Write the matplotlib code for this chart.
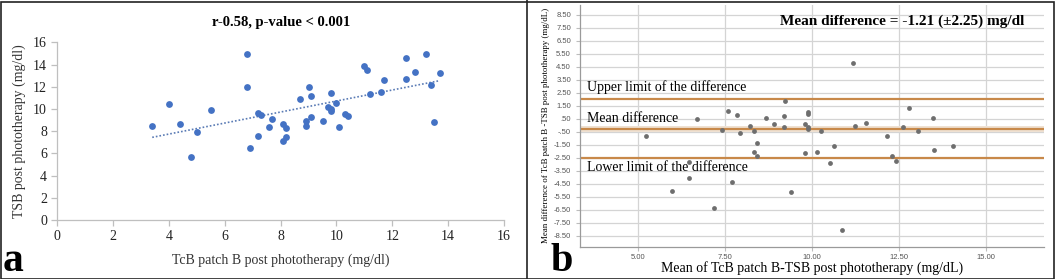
import matplotlib
matplotlib.use("Agg")
import matplotlib.pyplot as plt
import numpy as np
from matplotlib.patches import Rectangle
from matplotlib.lines import Line2D

# ---------------- data ----------------
# Panel a: TcB patch B vs TSB post phototherapy
tcb_a = [3.4, 4.0, 4.4, 4.8, 5.0, 5.5, 6.8, 6.8, 6.9, 7.2, 7.2, 7.3, 7.6, 7.7,
         8.1, 8.1, 8.2, 8.2, 8.7, 8.9, 8.9, 9.0, 9.1, 9.1, 9.5, 9.8, 9.7, 9.8,
         9.8, 10.0, 10.1, 10.3, 10.4, 11.0, 11.1, 11.2, 11.6, 11.7, 12.5, 12.5,
         12.8, 13.2, 13.4, 13.5, 13.7]
tsb_a = [8.5, 10.45, 8.6, 5.7, 7.9, 9.9, 14.95, 12.0, 6.5, 9.6, 7.6, 9.45, 8.35, 9.1,
         8.6, 7.1, 8.3, 7.5, 10.9, 8.45, 8.95, 12.0, 11.2, 9.3, 8.9, 11.45, 10.15, 10.0,
         9.8, 10.5, 8.35, 9.5, 9.4, 13.85, 13.55, 11.3, 11.5, 12.65, 14.55, 12.7,
         13.3, 14.95, 12.15, 8.85, 13.25]
ticks_a = [0, 2, 4, 6, 8, 10, 12, 14, 16]

# Panel b: Bland-Altman
mean_b = [5.22, 5.96, 6.46, 6.46, 6.69, 7.18, 7.40, 7.58, 7.69, 7.83, 7.93, 8.22,
          8.34, 8.34, 8.40, 8.40, 8.67, 8.89, 9.18, 9.18, 9.21, 9.39, 9.80, 9.80,
          9.88, 9.88, 9.89, 9.89, 10.14, 10.24, 10.50, 10.62, 10.85, 11.17, 11.24,
          11.54, 12.16, 12.30, 12.40, 12.60, 12.78, 13.05, 13.48, 13.50, 14.06]
diff_b = [-0.82, -5.03, -2.80, -4.08, 0.51, -6.37, -0.36, 1.10, -4.34, 0.80, -0.62, -0.03,
          -0.41, -2.03, -1.34, -2.34, 0.54, 0.08, 0.69, -0.10, 1.85, -5.16, 0.08, -2.13,
          -0.10, -0.31, 1.05, 0.87, -2.03, -0.41, -2.93, -1.59, -8.06, 4.78, -0.03,
          0.18, -0.82, -2.34, -2.72, -0.10, 1.36, -0.41, 0.54, -1.93, -1.62]
limits_b = {"upper": 2.05, "mean": -0.27, "lower": -2.55}
yticks_b = [8.5, 7.5, 6.5, 5.5, 4.5, 3.5, 2.5, 1.5, 0.5, -0.5, -1.5, -2.5, -3.5,
            -4.5, -5.5, -6.5, -7.5, -8.5]
ytick_labels_b = ["8.50", "7.50", "6.50", "5.50", "4.50", "3.50", "2.50", "1.50", ".50",
                  "-.50", "-1.50", "-2.50", "-3.50", "-4.50", "-5.50", "-6.50", "-7.50", "-8.50"]
xticks_b = [5.0, 7.5, 10.0, 12.5, 15.0]
xtick_labels_b = ["5.00", "7.50", "10.00", "12.50", "15.00"]

# ---------------- figure ----------------
W, H = 1056, 279
DPI = 100
plt.rcParams["font.family"] = ["Liberation Serif", "DejaVu Serif"]
fig = plt.figure(figsize=(W / DPI, H / DPI), dpi=DPI)

def px_axes(x0, y0, x1, y1):
    return fig.add_axes([x0 / W, 1 - y1 / H, (x1 - x0) / W, (y1 - y0) / H])

# ---- panel a ----
axa = px_axes(57.3, 42.3, 504, 220)
axa.scatter(tcb_a, tsb_a, s=24, color="#4472C4", zorder=3, linewidths=0)
coef = np.polyfit(tcb_a, tsb_a, 1)
xs = np.array([min(tcb_a), max(tcb_a)])
axa.plot(xs, np.polyval(coef, xs), linestyle=(0, (1, 1.2)), color="#5a7bb5", lw=1.2, zorder=2)
axa.set_xlim(0, 16)
axa.set_ylim(0, 16)
axa.set_xticks(ticks_a)
axa.set_yticks(ticks_a)
for sp in ["top", "right"]:
    axa.spines[sp].set_visible(False)
for sp in ["left", "bottom"]:
    axa.spines[sp].set_color("#bfbfbf")
    axa.spines[sp].set_linewidth(0.9)
axa.tick_params(axis="both", colors="#bfbfbf", labelcolor="#222222", labelsize=10,
                length=4, width=0.9, direction="out")
axa.set_xlabel("TcB patch B post phototherapy (mg/dl)", fontsize=10, color="#333333", labelpad=7)
axa.set_ylabel("TSB post phototherapy (mg/dl)", fontsize=10, color="#333333", labelpad=5)
axa.set_title("r-0.58, p-value < 0.001", fontsize=10.5, fontweight="bold", pad=12)

# ---- panel b ----
axb = px_axes(580, 5, 1044, 246.7)
axb.set_xlim(3.32, 16.67)
axb.set_ylim(-9.35, 9.27)
axb.set_yticks(yticks_b)
axb.set_yticklabels(ytick_labels_b)
axb.set_xticks(xticks_b)
axb.set_xticklabels(xtick_labels_b)
axb.grid(True, color="#d4d4d4", lw=0.9, zorder=0)
axb.set_axisbelow(True)
for sp in ["top", "right"]:
    axb.spines[sp].set_visible(False)
for sp in ["left", "bottom"]:
    axb.spines[sp].set_color("#9a9a9a")
    axb.spines[sp].set_linewidth(0.9)
axb.tick_params(axis="both", colors="#bdbdbd", labelcolor="#555555", length=3, width=0.8)
axb.tick_params(axis="x", pad=2)
for lab in axb.get_xticklabels() + axb.get_yticklabels():
    lab.set_family(["Liberation Sans", "DejaVu Sans"])
    lab.set_fontsize(5.5)
axb.axhspan(limits_b["mean"] - 0.22, limits_b["mean"] + 0.22, color="#efe1d2", zorder=1, lw=0)
for key in ["upper", "mean", "lower"]:
    axb.axhline(limits_b[key], color="#c8894a", lw=1.6, zorder=2)
axb.scatter(mean_b, diff_b, s=12, color="#6e6e6e", zorder=3, linewidths=0)
axb.text(3.52, 2.62, "Upper limit of the difference", fontsize=10, zorder=4)
axb.text(3.52, 0.26, "Mean difference", fontsize=10, zorder=4)
axb.text(3.52, -3.5, "Lower limit of the difference", fontsize=10, zorder=4)
axb.set_xlabel("Mean of TcB patch B-TSB post phototherapy (mg/dL)", fontsize=10, labelpad=0)
axb.set_ylabel("Mean difference of TcB patch B -TSB post phototherapy (mg/dL)", fontsize=6.4, labelpad=3)
fig.text(780 / W, 1 - 25 / H, "Mean difference = -1.21 (\u00b12.25) mg/dl",
         fontsize=11, fontweight="bold", ha="left", va="baseline")

# ---- panel letters and frames ----
fig.text(3 / W, 1 - 271 / H, "a", fontsize=30, fontweight="bold", va="baseline")
fig.text(551 / W, 1 - 271 / H, "b", fontsize=29, fontweight="bold", va="baseline")
fig.add_artist(Rectangle((0.5 / W, 0.5 / H), (W - 3) / W, (H - 2) / H, transform=fig.transFigure,
                         fill=False, ec="#222222", lw=1.2))
fig.add_artist(Line2D([527 / W, 527 / W], [0, 1], transform=fig.transFigure, color="#222222", lw=1.2))

fig.savefig("out.png", dpi=DPI)
